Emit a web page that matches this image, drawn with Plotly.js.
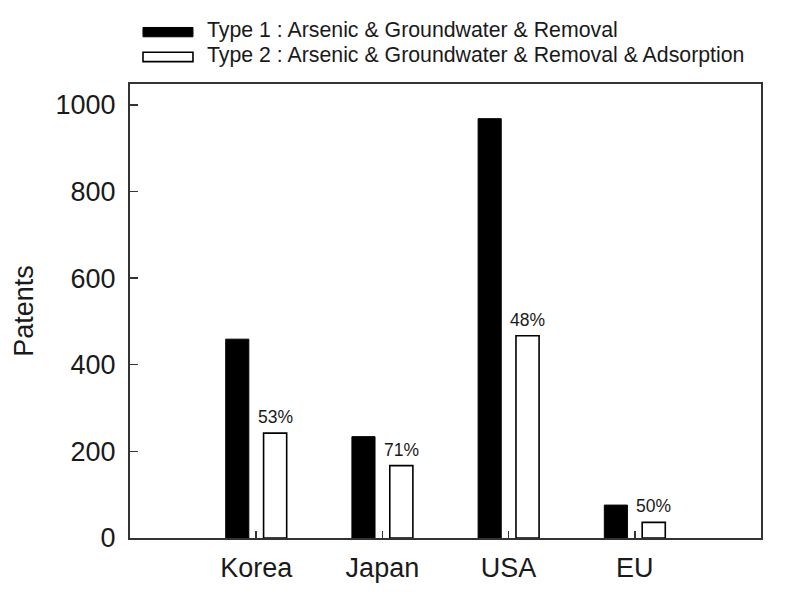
<!DOCTYPE html>
<html>
<head>
<meta charset="utf-8">
<script src="https://cdn.plot.ly/plotly-3.0.1.min.js"></script>
<style>html,body{margin:0;padding:0;background:#fff;}#chart{width:798px;height:607px;}</style>
</head>
<body>
<div id="chart"></div>
<script>
// ---- data ----
const categories = ["Korea", "Japan", "USA", "EU"];
const type1 = [459, 234, 968, 76];
const type2 = [242, 167, 467, 36];
const pctLabels = ["53%", "71%", "48%", "50%"];
const seriesNames = [
  "Type 1 : Arsenic & Groundwater & Removal",
  "Type 2 : Arsenic & Groundwater & Removal & Adsorption"
];
const yTicks = [0, 200, 400, 600, 800, 1000];

const FONT = "Liberation Sans, Arial, sans-serif";
const INK = "#1a1a1a";

const traces = [
  {
    type: "bar", name: seriesNames[0], x: categories, y: type1,
    marker: { color: "#000000", line: { color: "#000000", width: 1 } },
    showlegend: false, hoverinfo: "x+y"
  },
  {
    type: "bar", name: seriesNames[1], x: categories, y: type2,
    marker: { color: "#ffffff", line: { color: "#000000", width: 1.6 } },
    showlegend: false, hoverinfo: "x+y"
  }
];

const annotations = categories.map((c, i) => ({
  x: c, y: type2[i], xref: "x", yref: "y",
  text: pctLabels[i], showarrow: false,
  xshift: 19, yshift: 4, yanchor: "bottom", xanchor: "center",
  font: { family: FONT, size: 17.5, color: INK }
}));

// custom legend (long flat swatches like the reference)
const shapes = [
  { type: "rect", xref: "paper", yref: "paper", x0: 0.0206, x1: 0.0998, y0: 1.104, y1: 1.1245,
    fillcolor: "#000000", line: { color: "#000000", width: 1 } },
  { type: "rect", xref: "paper", yref: "paper", x0: 0.0206, x1: 0.0998, y0: 1.0493, y1: 1.0698,
    fillcolor: "#ffffff", line: { color: "#000000", width: 1.6 } }
];
annotations.push(
  { xref: "paper", yref: "paper", x: 0.119, y: 1.119, xanchor: "left", yanchor: "middle",
    text: seriesNames[0], showarrow: false, font: { family: FONT, size: 21.3, color: INK } },
  { xref: "paper", yref: "paper", x: 0.119, y: 1.0639, xanchor: "left", yanchor: "middle",
    text: seriesNames[1], showarrow: false, font: { family: FONT, size: 21.3, color: INK } }
);

const layout = {
  width: 798, height: 607,
  margin: { l: 130, r: 37, t: 84, b: 69, pad: 0 },
  paper_bgcolor: "#ffffff", plot_bgcolor: "#ffffff",
  font: { family: FONT, color: INK },
  barmode: "group", bargap: 0.4, bargroupgap: 0.39,
  showlegend: false,
  xaxis: {
    type: "category", range: [-1, 4],
    showline: true, linecolor: "#333333", linewidth: 2, mirror: true,
    ticks: "inside", ticklen: 7, tickwidth: 1.5, tickcolor: "#333333",
    tickfont: { family: FONT, size: 27, color: INK },
    ticklabelstandoff: 5,
    showgrid: false, zeroline: false, automargin: false, fixedrange: true
  },
  yaxis: {
    range: [0, 1048],
    tickvals: yTicks, ticktext: yTicks.map(String),
    showline: true, linecolor: "#333333", linewidth: 2, mirror: true,
    ticks: "inside", ticklen: 8, tickwidth: 1.5, tickcolor: "#333333",
    tickfont: { family: FONT, size: 27, color: INK },
    ticklabelstandoff: 7,
    title: { text: "Patents", font: { family: FONT, size: 27, color: INK }, standoff: 14 },
    showgrid: false, zeroline: false, automargin: false, fixedrange: true
  },
  shapes: shapes,
  annotations: annotations
};

Plotly.newPlot("chart", traces, layout, { staticPlot: true, displayModeBar: false });
</script>
</body>
</html>
